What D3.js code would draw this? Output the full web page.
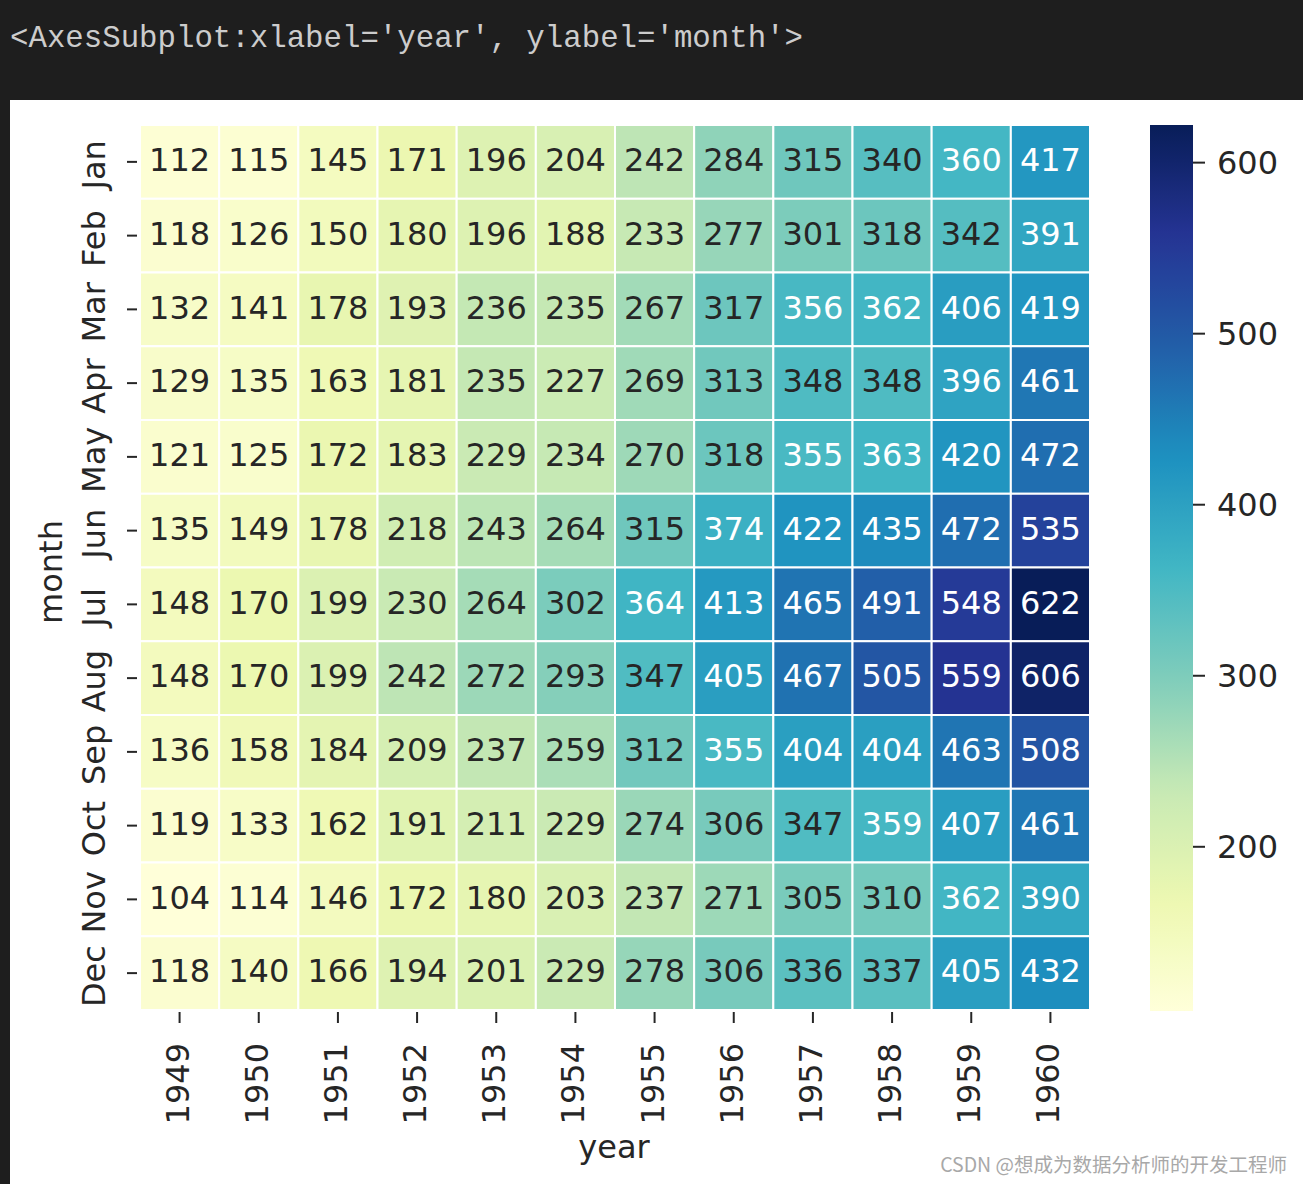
<!DOCTYPE html>
<html><head><meta charset="utf-8">
<script src="https://cdn.jsdelivr.net/npm/d3@7"></script>
<style>body{margin:0;background:#fff}svg{display:block}</style>
</head><body>
<script>
const years = [1949,1950,1951,1952,1953,1954,1955,1956,1957,1958,1959,1960];
const months = ["Jan","Feb","Mar","Apr","May","Jun","Jul","Aug","Sep","Oct","Nov","Dec"];
const jan = [112,115,145,171,196,204,242,284,315,340,360,417];
const feb = [118,126,150,180,196,188,233,277,301,318,342,391];
const mar = [132,141,178,193,236,235,267,317,356,362,406,419];
const apr = [129,135,163,181,235,227,269,313,348,348,396,461];
const may = [121,125,172,183,229,234,270,318,355,363,420,472];
const jun = [135,149,178,218,243,264,315,374,422,435,472,535];
const jul = [148,170,199,230,264,302,364,413,465,491,548,622];
const aug = [148,170,199,242,272,293,347,405,467,505,559,606];
const sep = [136,158,184,209,237,259,312,355,404,404,463,508];
const oct = [119,133,162,191,211,229,274,306,347,359,407,461];
const nov = [104,114,146,172,180,203,237,271,305,310,362,390];
const dec = [118,140,166,194,201,229,278,306,336,337,405,432];
const rows = [jan,feb,mar,apr,may,jun,jul,aug,sep,oct,nov,dec];
const cbarTicks = [200,300,400,500,600];
const ylgnbu = ["#ffffd9","#edf8b1","#c7e9b4","#7fcdbb","#41b6c4","#1d91c0","#225ea8","#253494","#081d58"];

const W = 1303, H = 1184;
const svg = d3.select("body").append("svg").attr("width", W).attr("height", H);
svg.append("rect").attr("width", W).attr("height", H).attr("fill", "#1e1e1e");
svg.append("rect").attr("x", 10).attr("y", 100).attr("width", W - 10).attr("height", H - 100).attr("fill", "#fff");
svg.append("text").attr("x", 10).attr("y", 47)
  .attr("font-family", "Liberation Mono, DejaVu Sans Mono, monospace")
  .attr("font-size", 32).attr("fill", "#cccccc")
  .attr("textLength", 793).attr("lengthAdjust", "spacingAndGlyphs")
  .text("<AxesSubplot:xlabel='year', ylabel='month'>");

const all = rows.flat();
const vmin = d3.min(all), vmax = d3.max(all);
const color = d3.scaleLinear()
  .domain(d3.range(9).map(i => vmin + (vmax - vmin) * i / 8))
  .range(ylgnbu).interpolate(d3.interpolateRgb).clamp(true);

const x = d3.scaleBand().domain(years).range([140, 1090]).padding(0);
const y = d3.scaleBand().domain(months).range([125, 1010]).padding(0);
const font = "'DejaVu Sans', sans-serif";
const fs = 32;
const ink = "#262626";

function lum(c) {
  const r = d3.rgb(c);
  const f = v => { v /= 255; return v <= 0.03928 ? v / 12.92 : Math.pow((v + 0.055) / 1.055, 2.4); };
  return 0.2126 * f(r.r) + 0.7152 * f(r.g) + 0.0722 * f(r.b);
}

const cells = [];
rows.forEach((r, i) => r.forEach((v, j) => cells.push({m: months[i], yr: years[j], v})));
const g = svg.append("g");
g.selectAll("rect").data(cells).join("rect")
  .attr("x", d => x(d.yr)).attr("y", d => y(d.m))
  .attr("width", x.bandwidth()).attr("height", y.bandwidth())
  .attr("fill", d => color(d.v)).attr("stroke", "#fff").attr("stroke-width", 2);
g.selectAll("text").data(cells).join("text")
  .attr("x", d => x(d.yr) + x.bandwidth() / 2)
  .attr("y", d => y(d.m) + y.bandwidth() / 2)
  .attr("dy", "0.29em").attr("text-anchor", "middle")
  .attr("font-family", font).attr("font-size", fs)
  .attr("fill", d => lum(color(d.v)) > 0.408 ? ink : "#ffffff")
  .text(d => d.v);

// y axis
const yAx = svg.append("g");
months.forEach(m => {
  const cy = y(m) + y.bandwidth() / 2;
  yAx.append("line").attr("x1", 127).attr("x2", 137).attr("y1", cy).attr("y2", cy)
    .attr("stroke", ink).attr("stroke-width", 2);
  yAx.append("text").attr("transform", `translate(105,${cy + 3}) rotate(-90)`)
    .attr("text-anchor", "middle").attr("font-family", font).attr("font-size", fs)
    .attr("fill", ink).text(m);
});
svg.append("text").attr("transform", "translate(62,572) rotate(-90)")
  .attr("text-anchor", "middle").attr("font-family", font).attr("font-size", fs)
  .attr("fill", ink).text("month");

// x axis
const xAx = svg.append("g");
years.forEach(yr => {
  const cx = x(yr) + x.bandwidth() / 2;
  xAx.append("line").attr("x1", cx).attr("x2", cx).attr("y1", 1012).attr("y2", 1023)
    .attr("stroke", ink).attr("stroke-width", 2);
  xAx.append("text").attr("transform", `translate(${cx + 9},1043) rotate(-90)`)
    .attr("text-anchor", "end").attr("font-family", font).attr("font-size", fs)
    .attr("fill", ink).text(yr);
});
svg.append("text").attr("x", 614).attr("y", 1158)
  .attr("text-anchor", "middle").attr("font-family", font).attr("font-size", fs)
  .attr("fill", ink).text("year");

// colorbar
const cb = d3.scaleLinear().domain([vmin, vmax]).range([1011, 125]);
const defs = svg.append("defs");
const grad = defs.append("linearGradient").attr("id", "cbg")
  .attr("x1", 0).attr("y1", 1).attr("x2", 0).attr("y2", 0);
d3.range(0, 1.0001, 0.02).forEach(t => {
  grad.append("stop").attr("offset", t).attr("stop-color", color(vmin + t * (vmax - vmin)));
});
svg.append("rect").attr("x", 1150).attr("y", 125).attr("width", 43).attr("height", 1011 - 125)
  .attr("fill", "url(#cbg)");
cbarTicks.forEach(t => {
  const ty = cb(t);
  svg.append("line").attr("x1", 1193).attr("x2", 1205).attr("y1", ty).attr("y2", ty)
    .attr("stroke", ink).attr("stroke-width", 2);
  svg.append("text").attr("x", 1217).attr("y", ty).attr("dy", "0.36em")
    .attr("font-family", font).attr("font-size", fs).attr("fill", ink).text(t);
});

// watermark
svg.append("text").attr("x", 1287).attr("y", 1172).attr("text-anchor", "end")
  .attr("font-family", "'Noto Sans CJK SC', sans-serif").attr("font-size", 19.5)
  .attr("fill", "#a8a8a8").text("CSDN @想成为数据分析师的开发工程师");
</script>
</body></html>
